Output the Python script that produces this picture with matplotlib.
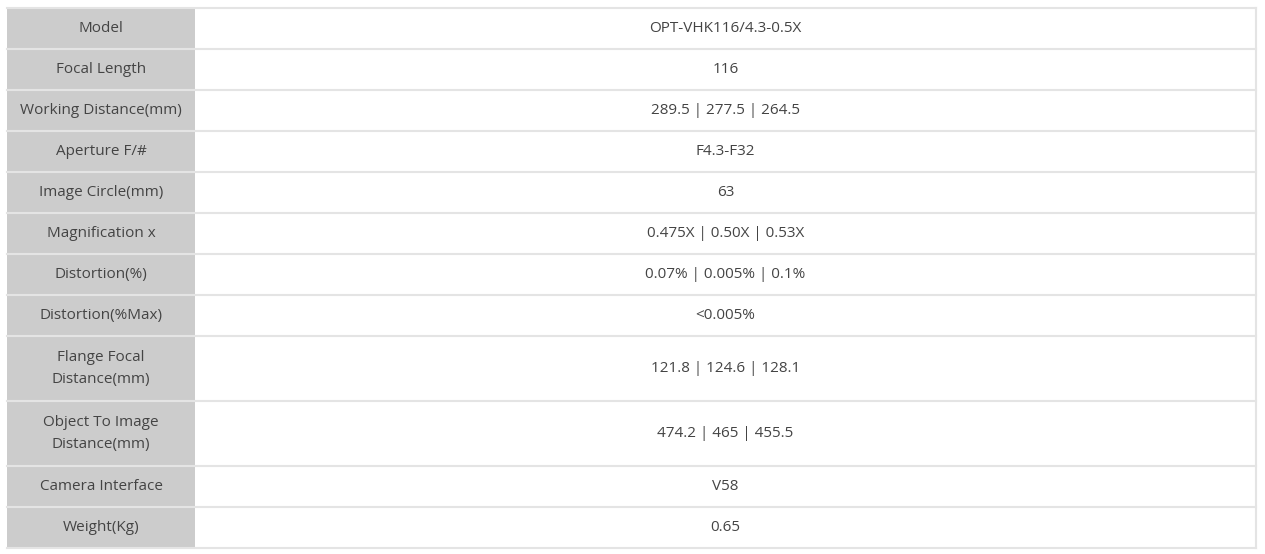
import matplotlib
matplotlib.use("Agg")
import matplotlib.pyplot as plt
from matplotlib.patches import Rectangle

labels = ["Model", "Focal Length", "Working Distance(mm)", "Aperture F/#", "Image Circle(mm)",
          "Magnification x", "Distortion(%)", "Distortion(%Max)", "Flange Focal\nDistance(mm)",
          "Object To Image\nDistance(mm)", "Camera Interface", "Weight(Kg)"]
values = ["OPT-VHK116/4.3-0.5X", "116", "289.5 | 277.5 | 264.5", "F4.3-F32", "63",
          "0.475X | 0.50X | 0.53X", "0.07% | 0.005% | 0.1%", "<0.005%",
          "121.8 | 124.6 | 128.1", "474.2 | 465 | 455.5", "V58", "0.65"]
heights = [41, 41, 41, 41, 41, 41, 41, 41, 65, 65, 41, 41]

W, H = 1265, 554
fig = plt.figure(figsize=(W/100, H/100), dpi=100)
ax = fig.add_axes([0, 0, 1, 1])
ax.set_xlim(0, W); ax.set_ylim(H, 0); ax.axis("off")

x0, x1, x2 = 7, 195, 1256
y = 8
line = "#e4e4e4"
for lab, val, h in zip(labels, values, heights):
    ax.add_patch(Rectangle((x0, y), x1 - x0, h, facecolor="#cccccc", edgecolor="none"))
    ax.text((x0 + x1) / 2, y + h / 2, lab, ha="center", va="center", fontsize=11,
            family="Open Sans", color="#444444", linespacing=1.55)
    ax.text((x1 + x2) / 2, y + h / 2, val, ha="center", va="center", fontsize=11,
            family="Open Sans", color="#444444")
    ax.plot([x0, x2], [y, y], color=line, lw=1.5)
    y += h
ax.plot([x0, x2], [y, y], color=line, lw=1.5)
ax.plot([x2, x2], [8, y], color=line, lw=1.5)
fig.savefig("out.png", dpi=100)
